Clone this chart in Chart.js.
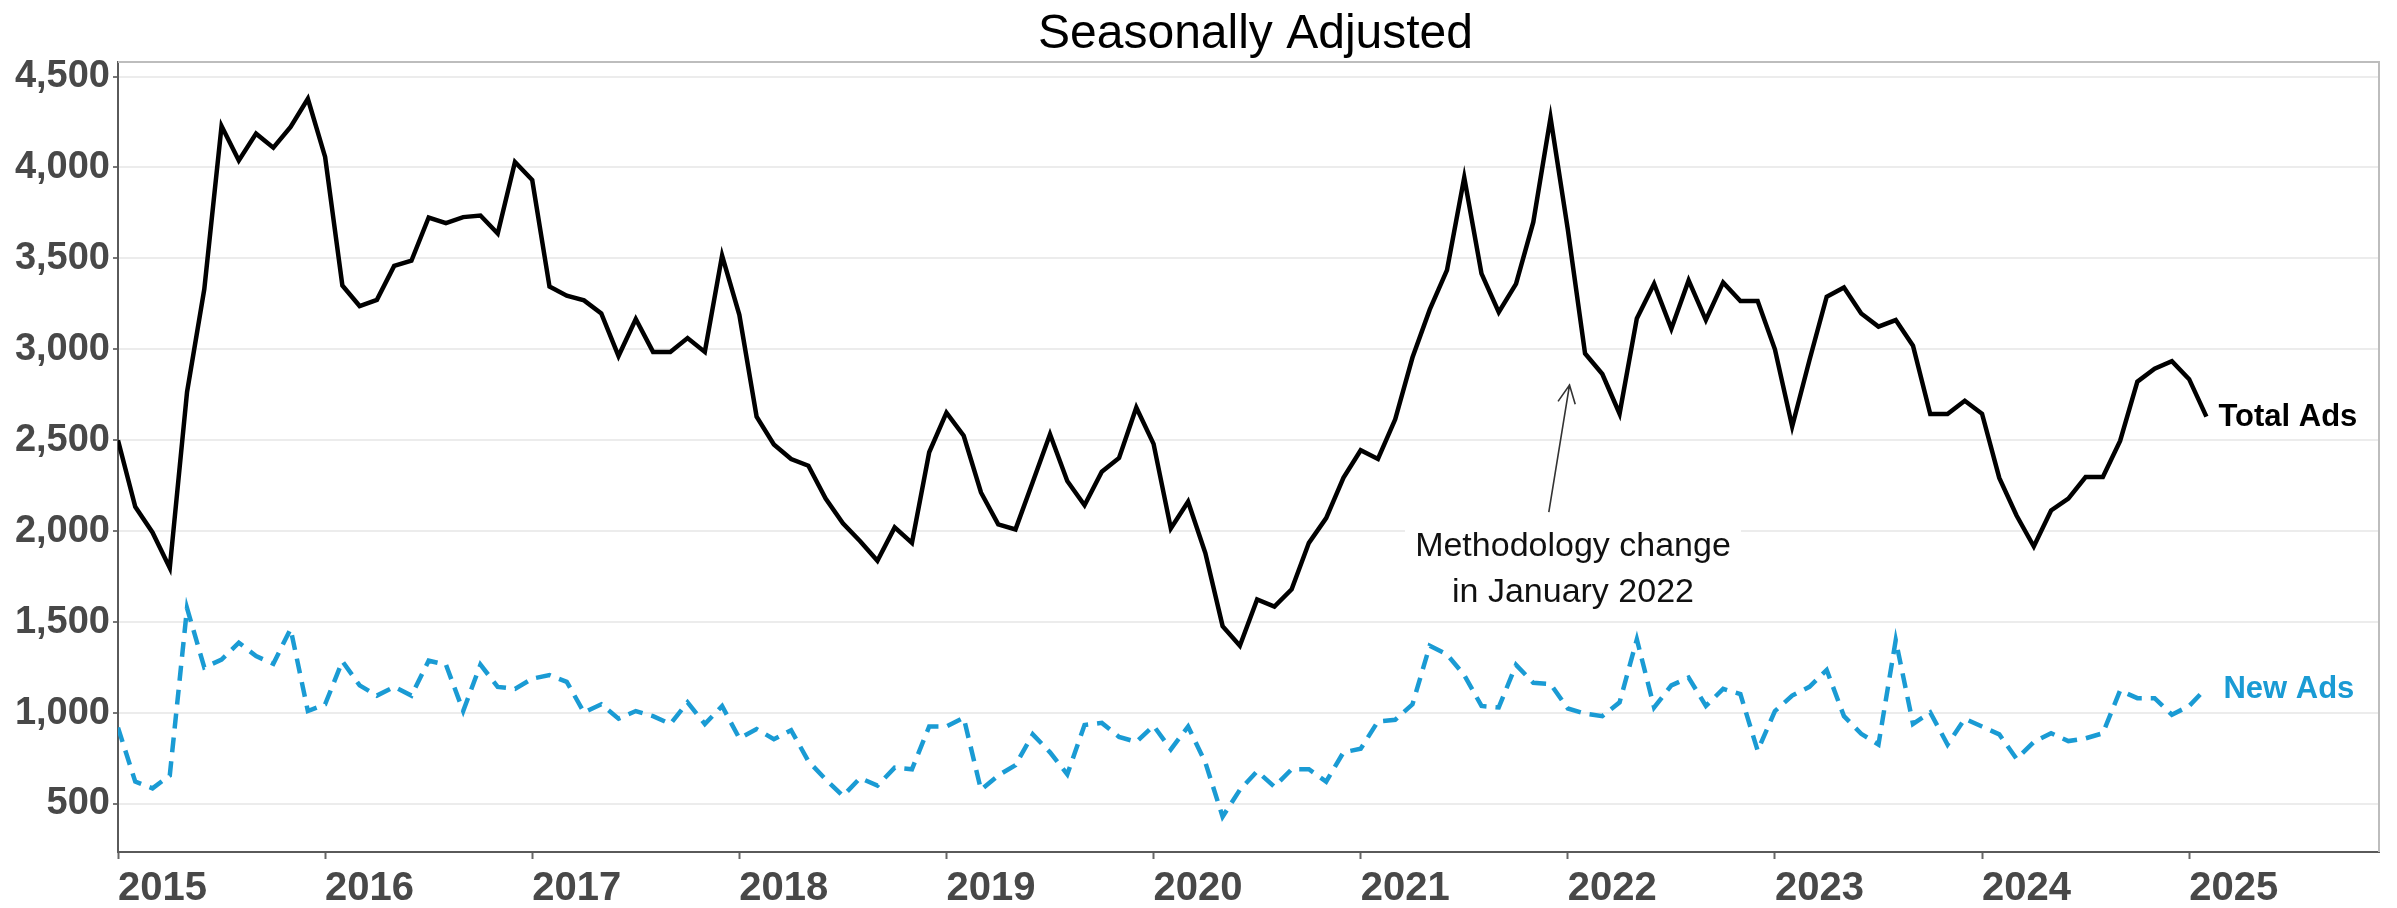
<!DOCTYPE html>
<html>
<head>
<meta charset="utf-8">
<script src="https://cdn.jsdelivr.net/npm/chart.js@4/dist/chart.umd.min.js"></script>
<style>
  html, body { margin: 0; padding: 0; background: #ffffff; }
  #wrap { width: 2397px; height: 908px; position: relative; }
</style>
</head>
<body>
<div id="wrap"><canvas id="c" width="2397" height="908"></canvas></div>
<script>
// ---- Data (monthly, Jan 2015 .. Feb 2025) ----
const startYear = 2015;
const totalAds = [
  2500, 2134, 1993, 1798, 2765, 3331, 4228, 4039, 4186, 4109, 4223, 4378,
  4058, 3351, 3238, 3272, 3459, 3487, 3725, 3694, 3727, 3736, 3637, 4030,
  3931, 3345, 3295, 3269, 3198, 2963, 3167, 2986, 2986, 3062, 2986, 3515,
  3190, 2630, 2477, 2397, 2360, 2179, 2044, 1945, 1837, 2021, 1936, 2434,
  2652, 2525, 2213, 2038, 2010, 2270, 2533, 2276, 2143, 2327, 2403, 2680,
  2480, 2015, 2162, 1880, 1478, 1370, 1625, 1585, 1681, 1936, 2072, 2293,
  2445, 2397, 2615, 2955, 3218, 3436, 3945, 3416, 3204, 3360, 3699, 4274,
  3660, 2977, 2864, 2646, 3170, 3360, 3113, 3379, 3161, 3368, 3266, 3266,
  3000, 2576, 2940, 3289, 3340, 3197, 3125, 3161, 3020, 2644, 2644, 2717,
  2646, 2293, 2086, 1916, 2114, 2179, 2298, 2298, 2496, 2822, 2893, 2935,
  2836, 2630
];
const newAds = [
  920, 623, 586, 657, 1577, 1251, 1294, 1387, 1313, 1271, 1463, 1011,
  1048, 1285, 1152, 1096, 1144, 1096, 1288, 1266, 1011, 1266, 1144, 1133,
  1189, 1209, 1172, 1003, 1048, 969, 1011, 983, 940, 1059, 940, 1039,
  861, 912, 856, 906, 735, 636, 544, 643, 601, 700, 691, 926,
  926, 974, 578, 657, 714, 883, 784, 663, 934, 946, 869, 841,
  930, 800, 926, 728, 430, 578, 680, 595, 691, 691, 623, 784,
  804, 954, 963, 1048, 1370, 1322, 1209, 1039, 1031, 1265, 1166, 1160,
  1025, 997, 983, 1059, 1405, 1031, 1152, 1195, 1039, 1133, 1104, 793,
  1011, 1096, 1144, 1237, 983, 886, 827, 1401, 940, 1003, 827, 969,
  926, 883, 748, 841, 889, 846, 861, 889, 1124, 1082, 1082, 991,
  1039, 1138
];
const yearLabels = ['2015','2016','2017','2018','2019','2020','2021','2022','2023','2024','2025'];
const yTickValues = [500, 1000, 1500, 2000, 2500, 3000, 3500, 4000, 4500];
const seriesNames = ['Total Ads', 'New Ads'];
const titleText = 'Seasonally Adjusted';
const noteLines = ['Methodology change', 'in January 2022'];

// ---- Styling ----
const FONT = "'Liberation Sans', Arial, Helvetica, sans-serif";
const BLUE = '#1a9bd4';
const TICK_COLOR = '#484848';

// annotation anchors in data space (month index, value)
const noteAnchor = { x: 84.3, y1: 1863, y2: 1610 };
const arrowFrom = { x: 82.9, y: 2105 };
const arrowTo = { x: 84.1, y: 2804 };

const toPoints = arr => arr.map((v, i) => ({ x: i, y: v }));

const decor = {
  id: 'decor',
  beforeDatasetsDraw(chart) {
    const { ctx, chartArea: a, scales: { x, y } } = chart;
    ctx.save();
    // frame top/right
    ctx.strokeStyle = '#bdbdbd';
    ctx.lineWidth = 2;
    ctx.beginPath();
    ctx.moveTo(a.left, a.top);
    ctx.lineTo(a.right, a.top);
    ctx.lineTo(a.right, a.bottom);
    ctx.stroke();
    // white box behind note
    const cx = x.getPixelForValue(noteAnchor.x);
    const b1 = y.getPixelForValue(noteAnchor.y1);
    const b2 = y.getPixelForValue(noteAnchor.y2);
    ctx.fillStyle = '#ffffff';
    ctx.fillRect(cx - 168, b1 - 40, 336, (b2 - b1) + 52);
    ctx.restore();
  },
  afterDatasetsDraw(chart) {
    const { ctx, chartArea: a, scales: { x, y } } = chart;
    ctx.save();
    // title
    ctx.fillStyle = '#000';
    ctx.font = `48px ${FONT}`;
    ctx.textAlign = 'center';
    ctx.textBaseline = 'alphabetic';
    ctx.fillText(titleText, (a.left + a.right) / 2 + 7, 48);

    // note text
    const cx = x.getPixelForValue(noteAnchor.x);
    ctx.font = `34px ${FONT}`;
    ctx.fillStyle = '#111';
    ctx.fillText(noteLines[0], cx, y.getPixelForValue(noteAnchor.y1));
    ctx.fillText(noteLines[1], cx, y.getPixelForValue(noteAnchor.y2));

    // arrow
    const x0 = x.getPixelForValue(arrowFrom.x), y0 = y.getPixelForValue(arrowFrom.y);
    const x1 = x.getPixelForValue(arrowTo.x), y1 = y.getPixelForValue(arrowTo.y);
    ctx.strokeStyle = '#333';
    ctx.lineWidth = 1.6;
    ctx.beginPath();
    ctx.moveTo(x0, y0); ctx.lineTo(x1, y1);
    const ang = Math.atan2(y1 - y0, x1 - x0);
    const L = 20, spread = 0.45;
    ctx.moveTo(x1 - L * Math.cos(ang - spread), y1 - L * Math.sin(ang - spread));
    ctx.lineTo(x1, y1);
    ctx.lineTo(x1 - L * Math.cos(ang + spread), y1 - L * Math.sin(ang + spread));
    ctx.stroke();

    // series end labels
    ctx.font = `bold 31px ${FONT}`;
    ctx.textAlign = 'left';
    ctx.textBaseline = 'middle';
    const m0 = chart.getDatasetMeta(0).data;
    const m1 = chart.getDatasetMeta(1).data;
    const p0 = m0[m0.length - 1], p1 = m1[m1.length - 1];
    ctx.fillStyle = '#000';
    ctx.fillText(seriesNames[0], p0.x + 12, p0.y + 1);
    ctx.fillStyle = BLUE;
    ctx.fillText(seriesNames[1], p1.x + 17, p1.y + 1);
    ctx.restore();
  }
};

new Chart(document.getElementById('c'), {
  type: 'line',
  data: {
    datasets: [
      {
        label: seriesNames[0],
        data: toPoints(totalAds),
        borderColor: '#000000',
        borderWidth: 4.5,
        pointRadius: 0,
        tension: 0,
        fill: false
      },
      {
        label: seriesNames[1],
        data: toPoints(newAds),
        borderColor: BLUE,
        borderWidth: 4.5,
        borderDash: [15, 9],
        pointRadius: 0,
        tension: 0,
        fill: false
      }
    ]
  },
  options: {
    responsive: false,
    animation: false,
    devicePixelRatio: 1,
    layout: { padding: { left: 0, right: 18, top: 62, bottom: 0 } },
    plugins: {
      legend: { display: false },
      tooltip: { enabled: false },
      title: { display: false }
    },
    scales: {
      x: {
        type: 'linear',
        min: 0,
        max: 131,
        afterBuildTicks: s => { s.ticks = yearLabels.map((_, i) => ({ value: i * 12 })); },
        afterFit: s => { s.height = 56; },
        ticks: {
          callback: v => yearLabels[Math.round(v / 12)],
          align: 'start',
          autoSkip: false,
          maxRotation: 0,
          color: TICK_COLOR,
          padding: 6,
          font: { family: FONT, size: 40, weight: 'bold' }
        },
        grid: { drawOnChartArea: false, drawTicks: true, tickLength: 7, tickColor: '#666', tickWidth: 2 },
        border: { display: true, color: '#5a5a5a', width: 2 }
      },
      y: {
        min: 236,
        max: 4580,
        afterBuildTicks: s => { s.ticks = yTickValues.map(v => ({ value: v })); },
        afterFit: s => { s.width = 118; },
        ticks: {
          callback: v => v.toLocaleString('en-US'),
          color: TICK_COLOR,
          padding: 3,
          font: { family: FONT, size: 38, weight: 'bold' }
        },
        grid: { color: '#ececec', lineWidth: 2, drawTicks: true, tickLength: 5, tickColor: '#777', tickWidth: 2 },
        border: { display: true, color: '#5a5a5a', width: 2 }
      }
    }
  },
  plugins: [decor]
});
</script>
</body>
</html>
